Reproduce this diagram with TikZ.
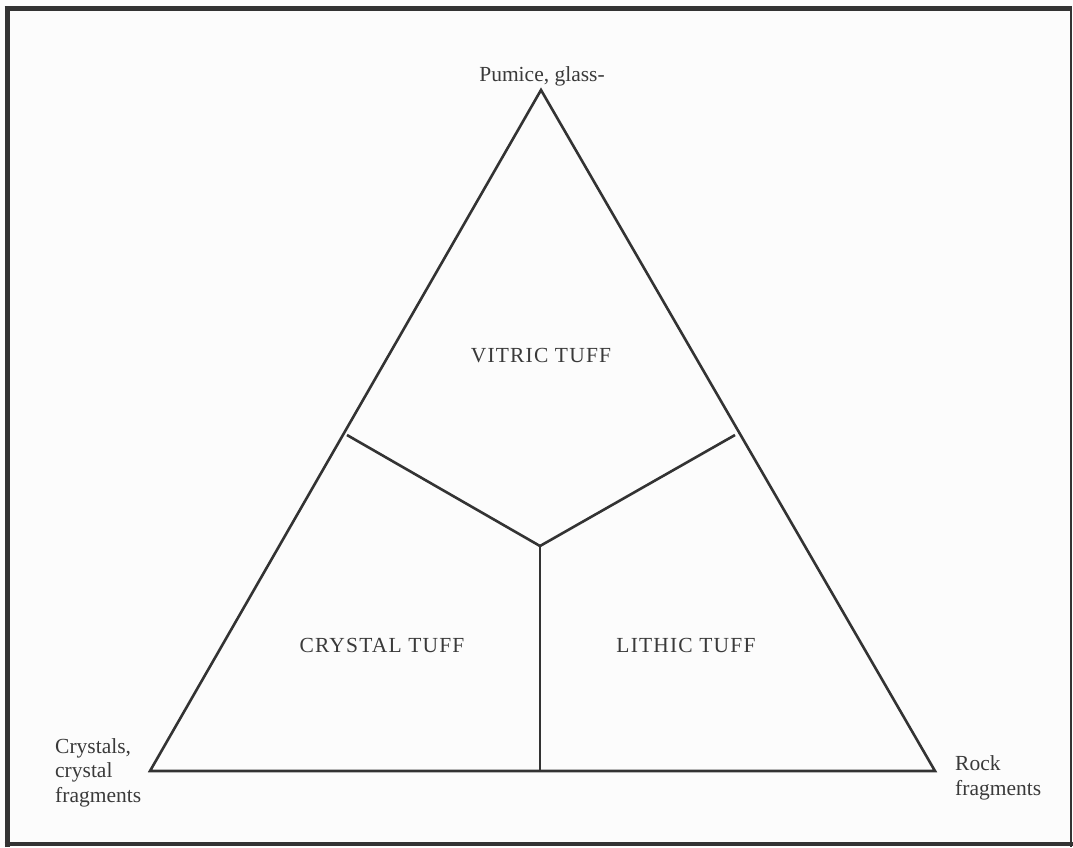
\documentclass[tikz,border=0pt]{standalone}
\usepackage{fontspec}
\setmainfont{Liberation Serif}
\newfontfamily\spacedfont[LetterSpace=5.5]{Liberation Serif}
\definecolor{ink}{HTML}{333333}
\definecolor{txt}{HTML}{3A3A3A}
\definecolor{paper}{HTML}{FCFCFC}
\begin{document}
\begin{tikzpicture}[x=1pt,y=-1pt,
  edge/.style={draw=ink,line width=2.6pt,line join=miter},
  lbl/.style={text=txt,font=\fontsize{21.5}{24.5}\selectfont,inner sep=0pt},
  region/.style={text=txt,font=\spacedfont\fontsize{21.5}{24.5}\selectfont,inner sep=0pt,anchor=base},
  corner/.style={lbl,anchor=base west,align=left}]
\fill[paper] (0,0) rectangle (1073,847);
\useasboundingbox (0,0) rectangle (1073,847);
% frame
\draw[ink,line width=5pt] (7,847) -- (7,8);
\draw[ink,line width=5pt] (4.5,8) -- (1071,8);
\draw[ink,line width=2pt] (1071,6) -- (1071,847);
\draw[ink,line width=4pt] (4.5,844) -- (1073,844);
% triangle
\coordinate (apex) at (541,90);
\coordinate (bl) at (150,771);
\coordinate (br) at (935,771);
\coordinate (ml) at (347,435);
\coordinate (mr) at (735,435);
\coordinate (c) at (540,546);
\coordinate (mb) at (540,771);
\draw[edge] (apex) -- (bl) -- (br) -- cycle;
\draw[edge] (ml) -- (c) -- (mr);
\draw[edge] (c) -- (mb);
% labels
\node[lbl,anchor=base] (pum) at (542,81) {Pumice, glass-};
\node[region] (vit) at (541,362) {VITRIC TUFF};
\node[region] (cry) at (382,652) {CRYSTAL TUFF};
\node[region] (lit) at (686,652) {LITHIC TUFF};
\node[corner] (crl) at (55,802) {Crystals,\\crystal\\fragments};
\node[corner] (rock) at (955,795) {Rock\\fragments};
\end{tikzpicture}
\end{document}
